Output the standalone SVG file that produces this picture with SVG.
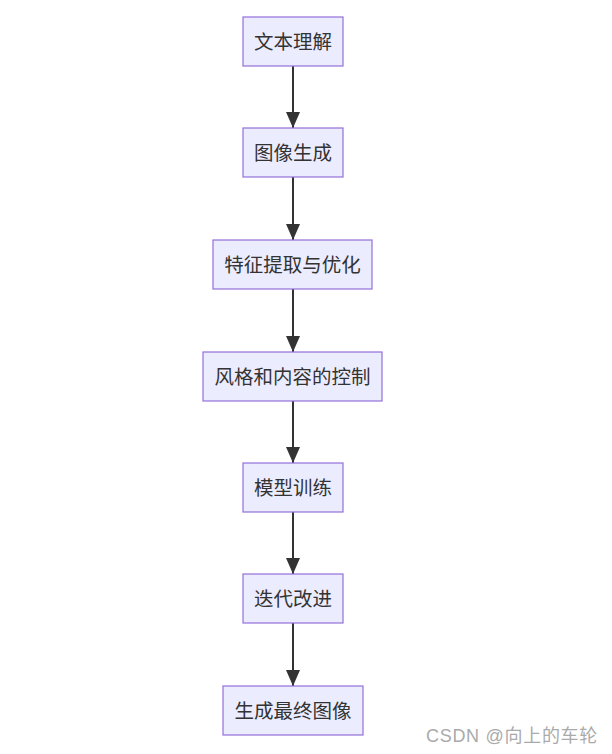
<svg xmlns="http://www.w3.org/2000/svg" width="612" height="754" viewBox="0 0 612 754">
<style>
.node rect{fill:#ECECFF;stroke:#9370DB;stroke-width:1.2}
.node text{font-family:"Liberation Sans","Noto Sans CJK SC",sans-serif;font-size:19.5px;fill:#333;text-anchor:middle}
.edge{stroke:#333;stroke-width:2;fill:none}
.wm{font-family:"Liberation Sans","Noto Sans CJK SC",sans-serif;font-size:18px;letter-spacing:0.7px;fill:#aaa}
</style>
<defs>
<marker id="ah" viewBox="0 0 16 14" refX="16" refY="7" markerWidth="16" markerHeight="14" markerUnits="userSpaceOnUse" orient="auto">
<path d="M0,0 L16,7 L0,14 z" fill="#333"/>
</marker>
</defs>
<rect width="612" height="754" fill="#fff"/>
<g id="edges">
<line class="edge" x1="293" y1="66" x2="293" y2="128" marker-end="url(#ah)"/>
<line class="edge" x1="293" y1="177" x2="293" y2="240" marker-end="url(#ah)"/>
<line class="edge" x1="293" y1="289" x2="293" y2="352" marker-end="url(#ah)"/>
<line class="edge" x1="293" y1="401" x2="293" y2="463" marker-end="url(#ah)"/>
<line class="edge" x1="293" y1="512" x2="293" y2="574" marker-end="url(#ah)"/>
<line class="edge" x1="293" y1="623" x2="293" y2="686" marker-end="url(#ah)"/>
</g>
<g id="n1" class="node"><rect x="243" y="17" width="100" height="49"/><text x="293" y="48.5">文本理解</text></g>
<g id="n2" class="node"><rect x="243" y="128" width="100" height="49"/><text x="293" y="159.5">图像生成</text></g>
<g id="n3" class="node"><rect x="213" y="240" width="159" height="49"/><text x="292.5" y="271.5">特征提取与优化</text></g>
<g id="n4" class="node"><rect x="203" y="352" width="179" height="49"/><text x="292.5" y="383.5">风格和内容的控制</text></g>
<g id="n5" class="node"><rect x="243" y="463" width="100" height="49"/><text x="293" y="494.5">模型训练</text></g>
<g id="n6" class="node"><rect x="243" y="574" width="100" height="49"/><text x="293" y="605.5">迭代改进</text></g>
<g id="n7" class="node"><rect x="223" y="686" width="140" height="49"/><text x="293" y="717.5">生成最终图像</text></g>
<text class="wm" x="426" y="742">CSDN @向上的车轮</text>
</svg>
